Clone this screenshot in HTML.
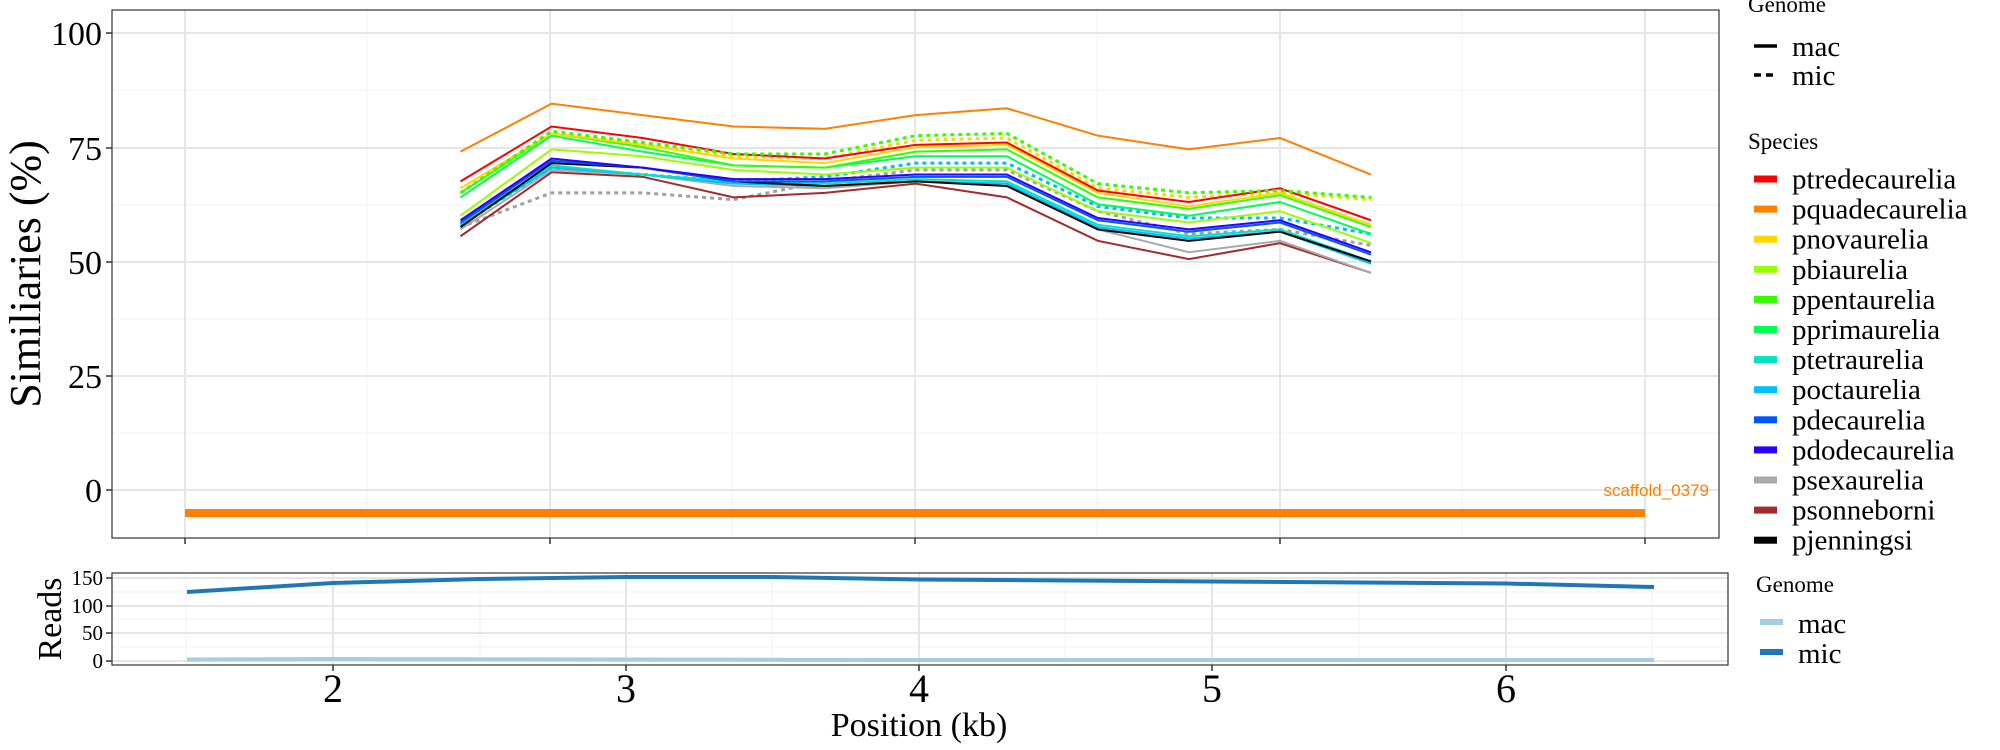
<!DOCTYPE html>
<html><head><meta charset="utf-8"><style>
html,body{margin:0;padding:0;background:#fff;}
svg{display:block;}
text{font-family:"Liberation Serif",serif;}
</style></head><body>
<svg id="s" width="2000" height="750" xmlns="http://www.w3.org/2000/svg">
<rect width="2000" height="750" fill="#fff"/>
<g stroke="#f2f2f2" stroke-width="1">
<line x1="112" x2="1719" y1="433" y2="433"/><line x1="112" x2="1719" y1="319" y2="319"/><line x1="112" x2="1719" y1="205" y2="205"/><line x1="112" x2="1719" y1="90" y2="90"/>
<line x1="367" x2="367" y1="10" y2="538"/><line x1="732" x2="732" y1="10" y2="538"/><line x1="1097" x2="1097" y1="10" y2="538"/><line x1="1462" x2="1462" y1="10" y2="538"/>
</g>
<g stroke="#e6e6e6" stroke-width="2">
<line x1="112" x2="1719" y1="490" y2="490"/><line x1="112" x2="1719" y1="376" y2="376"/><line x1="112" x2="1719" y1="262" y2="262"/><line x1="112" x2="1719" y1="148" y2="148"/><line x1="112" x2="1719" y1="33" y2="33"/>
<line x1="185" x2="185" y1="10" y2="538"/><line x1="550" x2="550" y1="10" y2="538"/><line x1="915" x2="915" y1="10" y2="538"/><line x1="1280" x2="1280" y1="10" y2="538"/><line x1="1645" x2="1645" y1="10" y2="538"/>
</g>
<g id="series"></g>
<rect x="185" y="509" width="1460" height="8" fill="#FF7F00"/>
<text x="1709" y="496" font-size="17" fill="#FF7F00" text-anchor="end" style="font-family:'Liberation Sans',sans-serif">scaffold_0379</text>
<rect x="112" y="10" width="1607" height="528" fill="none" stroke="#333" stroke-width="1.2"/>
<g stroke="#333" stroke-width="1.5">
<line x1="106" x2="112" y1="490" y2="490"/><line x1="106" x2="112" y1="376" y2="376"/><line x1="106" x2="112" y1="262" y2="262"/><line x1="106" x2="112" y1="148" y2="148"/><line x1="106" x2="112" y1="33" y2="33"/>
<line x1="185" x2="185" y1="538" y2="544"/><line x1="550" x2="550" y1="538" y2="544"/><line x1="915" x2="915" y1="538" y2="544"/><line x1="1280" x2="1280" y1="538" y2="544"/><line x1="1645" x2="1645" y1="538" y2="544"/>
</g>
<g font-size="34" text-anchor="end" fill="#000">
<text x="102" y="502">0</text><text x="102" y="388">25</text><text x="102" y="274">50</text><text x="102" y="160">75</text><text x="102" y="45">100</text>
</g>
<text transform="translate(40,274) rotate(-90)" font-size="44" text-anchor="middle">Similiaries (%)</text>

<g stroke="#f2f2f2" stroke-width="1">
<line x1="112" x2="1728" y1="647" y2="647"/><line x1="112" x2="1728" y1="619" y2="619"/><line x1="112" x2="1728" y1="592" y2="592"/>
<line x1="480" x2="480" y1="573" y2="665"/><line x1="772" x2="772" y1="573" y2="665"/><line x1="1065" x2="1065" y1="573" y2="665"/><line x1="1359" x2="1359" y1="573" y2="665"/><line x1="186" x2="186" y1="573" y2="665"/><line x1="1652" x2="1652" y1="573" y2="665"/>
</g>
<g stroke="#e6e6e6" stroke-width="2">
<line x1="112" x2="1728" y1="661" y2="661"/><line x1="112" x2="1728" y1="633" y2="633"/><line x1="112" x2="1728" y1="606" y2="606"/><line x1="112" x2="1728" y1="578" y2="578"/>
<line x1="333" x2="333" y1="573" y2="665"/><line x1="626" x2="626" y1="573" y2="665"/><line x1="919" x2="919" y1="573" y2="665"/><line x1="1212" x2="1212" y1="573" y2="665"/><line x1="1506" x2="1506" y1="573" y2="665"/>
</g>
<polyline fill="none" stroke="#A6CEE3" stroke-width="4" points="187,659.5 333,659 626,659.5 919,660 1212,660 1506,660 1654,660"/>
<polyline fill="none" stroke="#1F78B4" stroke-width="4" points="187,592 333,583 480,579 626,577 772,577 919,579.5 1212,581.5 1506,583.5 1654,587"/>
<rect x="112" y="573" width="1616" height="92" fill="none" stroke="#333" stroke-width="1.2"/>
<g stroke="#333" stroke-width="1.5">
<line x1="106" x2="112" y1="661" y2="661"/><line x1="106" x2="112" y1="633" y2="633"/><line x1="106" x2="112" y1="606" y2="606"/><line x1="106" x2="112" y1="578" y2="578"/>
<line x1="333" x2="333" y1="665" y2="671"/><line x1="626" x2="626" y1="665" y2="671"/><line x1="919" x2="919" y1="665" y2="671"/><line x1="1212" x2="1212" y1="665" y2="671"/><line x1="1506" x2="1506" y1="665" y2="671"/>
</g>
<g font-size="21" text-anchor="end">
<text x="103" y="668">0</text><text x="103" y="640">50</text><text x="103" y="613">100</text><text x="103" y="585">150</text>
</g>
<text transform="translate(61,619) rotate(-90)" font-size="34" text-anchor="middle">Reads</text>
<g font-size="40" text-anchor="middle">
<text x="333" y="702">2</text><text x="626" y="702">3</text><text x="919" y="702">4</text><text x="1212" y="702">5</text><text x="1506" y="702">6</text>
</g>
<text x="919" y="736" font-size="34" text-anchor="middle">Position (kb)</text>

<g font-size="23"><text x="1748" y="12">Genome</text><text x="1748" y="149">Species</text><text x="1756" y="592">Genome</text></g>
<line x1="1754" x2="1777" y1="46" y2="46" stroke="#000" stroke-width="3.5"/>
<line x1="1754" x2="1777" y1="75" y2="75" stroke="#000" stroke-width="3.5" stroke-dasharray="7,5"/>
<g font-size="29"><text x="1792" y="56">mac</text><text x="1792" y="85">mic</text></g>
<g id="leg" font-size="29"></g>
<rect x="1760" y="619" width="23" height="6" fill="#A6CEE3"/>
<rect x="1760" y="649" width="23" height="6" fill="#1F78B4"/>
<g font-size="29"><text x="1798" y="633">mac</text><text x="1798" y="663">mic</text></g>
</svg>
<script>
var ns="http://www.w3.org/2000/svg";
function px(i){return 460.5+91.05*i;}
function py(v){return 490-v*4.572;}
var S=[
["#A0A0A0",[57.5,65,65,63.5,67.5,70,70,61,56,57,53.5],1],
["#00BFFF",[58,70.5,69,67.5,68.5,71.5,71.5,62,59.5,59.5,56],1],
["#FFD700",[65,78,75.5,73,72.5,76.5,77,66,64,65,63.5],1],
["#A52A2A",[55.5,69.5,68.5,64,65,67,64,54.5,50.5,54,47.5],0],
["#A9A9A9",[57,70,69,66.5,66,67.5,67,57,52,54.5,47.5],0],
["#00BFFF",[58,70.5,69,67,66.5,67.5,67,57.5,55,56.5,49.5],0],
["#00E5C0",[58.5,71,69,67.5,67,68,67.5,58,55.5,57,50],0],
["#000000",[57.5,71.5,70.5,67.5,66.5,67.5,66.5,57,54.5,56.5,50],0],
["#0055FF",[58.5,72,70.5,67.5,67.5,68.5,68.5,59,56.5,58.5,51.5],0],
["#2A00FF",[59,72.5,70.5,68,68,69,69,59.5,57,59,52],0],
["#99FF00",[60,74.5,73,70,69,70.5,70.5,61,58.5,61,54],0],
["#00FF55",[64,77.5,74,71,70.5,73,73,62.5,60,63,56],0],
["#33FF00",[65,78,75,71,70.5,74,74.5,64,61.5,64.5,57.5],0],
["#FFD700",[66,78,75.5,72.5,71.5,75,75.5,65,62,65,58],0],
["#FF0000",[67.5,79.5,77,73.5,72.5,75.5,76,65.5,63,66,59],0],
["#33FF00",[65,78.5,76,73.5,73.5,77.5,78,67,65,65.5,64],1],
["#FF7F00",[74,84.5,82,79.5,79,82,83.5,77.5,74.5,77,69],0]
];
var g=document.getElementById("series");
S.forEach(function(s){var p=document.createElementNS(ns,"polyline");
p.setAttribute("points",s[1].map(function(v,i){return px(i)+","+py(v)}).join(" "));
p.setAttribute("fill","none");p.setAttribute("stroke",s[0]);
p.setAttribute("stroke-width",s[2]?"3":"2");
if(s[2])p.setAttribute("stroke-dasharray","4,4");g.appendChild(p);});
var L=[["#FF0000","ptredecaurelia"],["#FF7F00","pquadecaurelia"],["#FFD700","pnovaurelia"],["#99FF00","pbiaurelia"],["#33FF00","ppentaurelia"],["#00FF55","pprimaurelia"],["#00E5C0","ptetraurelia"],["#00BFFF","poctaurelia"],["#0055FF","pdecaurelia"],["#2A00FF","pdodecaurelia"],["#A9A9A9","psexaurelia"],["#A52A2A","psonneborni"],["#000000","pjenningsi"]];
var lg=document.getElementById("leg");
L.forEach(function(l,i){var y=179+i*30.1;
var r=document.createElementNS(ns,"rect");r.setAttribute("x",1754);r.setAttribute("y",y-3.5);r.setAttribute("width",23);r.setAttribute("height",7);r.setAttribute("fill",l[0]);lg.appendChild(r);
var t=document.createElementNS(ns,"text");t.setAttribute("x",1792);t.setAttribute("y",y+9.5);t.textContent=l[1];lg.appendChild(t);});
</script>
</body></html>
